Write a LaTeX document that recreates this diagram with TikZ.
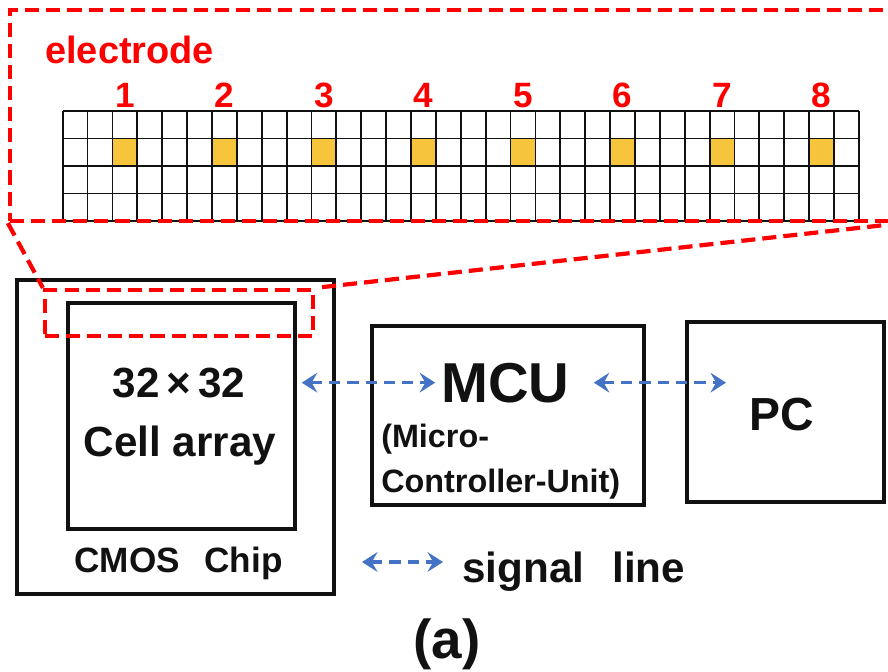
\documentclass[tikz,border=0pt]{standalone}
\usepackage{fontspec}
\setmainfont{Liberation Sans}
\usetikzlibrary{arrows.meta,calc,fit}
\definecolor{chipInk}{HTML}{111111}
\definecolor{chipRed}{HTML}{FF0000}
\definecolor{chipBlue}{HTML}{4472C4}
\definecolor{chipGold}{HTML}{F7C53B}
\newcommand{\chipfont}[1]{\fontsize{#1}{#1}\selectfont\bfseries}
\tikzset{
  chipBox/.style={draw=chipInk,line width=2.5pt,inner sep=0pt},
  chipZoom/.style={draw=chipRed,line width=3pt,dash pattern=on 10pt off 5pt,inner sep=0pt},
  chipCell/.style={draw=chipInk,line width=1.3pt},
  chipPad/.style={fill=chipGold},
  chipSignal/.style={draw=chipBlue,line width=2.4pt,dash pattern=on 8pt off 5pt,
    {Stealth[length=11pt,width=14pt,inset=4pt]}-{Stealth[length=11pt,width=14pt,inset=4pt]}}
}

\begin{document}
\begin{tikzpicture}[x=0.025cm,y=-0.025cm,
  lbl/.style={inner sep=0pt,anchor=base,text=chipInk}]
\clip (0,0) rectangle (888,671);
% zoomed strip of the cell array
\foreach \k in {0,...,7}{
  \pgfmathtruncatemacro\padno{\k+1}
  \fill[chipPad] ({62.7+(4*\k+2)*24.88},138.5) rectangle ++(24.88,27.5);
  \node[lbl,text=chipRed,font=\chipfont{25}] (pad\padno) at ({62.7+(4*\k+2.5)*24.88},107) {\padno};
}
\foreach \i in {0,...,32}
  \draw[chipCell] ({62.7+\i*24.88},111) -- ({62.7+\i*24.88},221);
\foreach \j in {0,...,4}
  \draw[chipCell] (62.7,{111+\j*27.5}) -- (858.9,{111+\j*27.5});
\node[chipZoom,fit={(10,10) (900,221)}] (strip) {};
\node[lbl,anchor=base west,text=chipRed,font=\chipfont{27}] (electrode) at (45,63) {electrode};

% chip, MCU and PC
\node[chipBox,fit={(17,280) (334,594)}] (chip) {};
\node[chipBox,fit={(68,303) (295,529)}] (cells) {};
\node[chipZoom,fit={(45,290) (313,336)}] (pick) {};
\draw[chipZoom] (strip.south west) -- (pick.north west);
\draw[chipZoom] (strip.south east) -- (pick.north east);
\node[lbl,font=\chipfont{30}] (size) at (179,397) {32\,×\,32};
\node[lbl,font=\chipfont{30}] (cellname) at (180,456) {Cell array};
\node[lbl,font=\chipfont{25}] (chipname) at (178.5,572) {CMOS\hspace{0.7em}Chip};

\node[chipBox,fit={(372,326) (644,505)}] (mcu) {};
\node[lbl,font=\chipfont{40}] (mcuname) at (505.5,402) {MCU};
\node[lbl,anchor=base west,font=\chipfont{23}] (mculine1) at (381,447) {(Micro-};
\node[lbl,anchor=base west,font=\chipfont{23}] (mculine2) at (381,492) {Controller-Unit)};

\node[chipBox,fit={(687,322) (884,502)}] (pc) {};
\node[lbl,font=\chipfont{33}] (pcname) at (781.5,430) {PC};

\draw[chipSignal] ($(cells.east |- mcuname.center)+(5,0)$) -- ($(mcuname.west)+(-6,0)$);
\draw[chipSignal] ($(mcuname.east)+(24,0)$) -- ($(pcname.west |- mcuname.center)+(-23,0)$);

% legend
\node[lbl,anchor=base west,font=\chipfont{30}] (legend) at (462,582) {signal\hspace{0.67em}line};
\coordinate (keyend) at (362,562);
\draw[chipSignal] (keyend) -- ($(legend.west |- keyend)+(-19,0)$);
\node[lbl,font=\chipfont{39}] (tag) at (447,658) {(a)};
\end{tikzpicture}
\end{document}
